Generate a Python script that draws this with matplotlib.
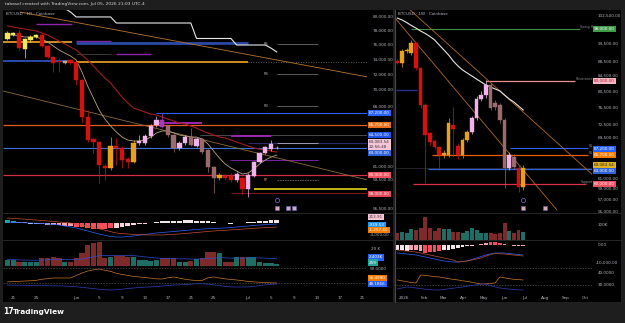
import matplotlib
matplotlib.use("Agg")
import matplotlib.pyplot as plt
from matplotlib.lines import Line2D
from matplotlib.patches import Rectangle
from matplotlib.ticker import NullLocator, NullFormatter
import numpy as np
import pandas as pd

W, H = 625, 323

# ---------------- daily BTCUSD (left chart) ----------------
d_dates = pd.date_range("2026-05-20", periods=48, freq="D")
d_open = [76760, 77320, 77600, 75390, 76620, 77040, 77320, 75790, 74300, 73770,
          73500, 73900, 73630, 71270, 66660, 64050, 63710, 61010, 60790, 63260,
          63030, 61780, 61450, 63600, 63600, 64410, 65700, 66300, 65580, 64530,
          63030, 63600, 64290, 63260, 64050, 62800, 60900, 59690, 59910, 59910,
          59480, 59690, 58520, 59910, 61450, 62460, 62900, 63000]
d_close = [77600, 77600, 75520, 76760, 77040, 77320, 75790, 74300, 73500, 73570,
           73770, 73500, 71270, 66660, 63940, 63710, 61120, 60790, 63260, 63030,
           61670, 61450, 63600, 63820, 64410, 65580, 66300, 65460, 64530, 63030,
           63600, 64290, 63370, 64050, 62570, 60900, 59690, 60020, 59690, 59480,
           60130, 58520, 60020, 61450, 62460, 63140, 63500, 63083.54]
d_high = [77880, 77800, 78020, 76900, 77300, 77500, 77600, 75900, 74400, 74170,
          73900, 74000, 73700, 71400, 67510, 64200, 63800, 61200, 64290, 64180,
          63200, 62000, 63940, 64530, 64600, 65800, 66780, 67140, 65700, 64700,
          63800, 64500, 65350, 64200, 64200, 62900, 61000, 60200, 60100, 60200,
          60300, 59800, 60200, 61600, 62600, 63300, 63900, 63300]
d_low = [76620, 77200, 75250, 74170, 76400, 76900, 75600, 74100, 72310, 72310,
         73300, 73300, 70630, 66060, 63710, 62460, 59160, 59480, 60570, 61120,
         60790, 60790, 61300, 63400, 63400, 64200, 65500, 65300, 64300, 62570,
         62800, 63400, 63200, 63100, 62400, 60350, 58100, 59500, 59500, 59300,
         59300, 58000, 57680, 59800, 61300, 62300, 62700, 62900]
d_kind = "YYRYYYRRRR" "TRRRRRRROR" "RROPPPPUMM" "PPMPMMMORR" "PRPPPPPP"
d_ema_fast = [77320, 77320, 77180, 77040, 77040, 77040, 76760, 76340, 75790, 75250,
              74840, 74440, 73900, 72310, 70500, 68990, 67510, 66420, 65580, 64880,
              64290, 63940, 63830, 63830, 63940, 64290, 64760, 65000, 65000, 64760,
              64530, 64410, 64290, 64290, 64060, 63480, 62680, 61890, 61230, 60790,
              60460, 60130, 60240, 60680, 61230, 61670, 62010, 62230]
d_ema_slow = [78590, 78440, 78300, 78160, 78020, 77880, 77600, 77320, 76900, 76480,
              76070, 75650, 75250, 74570, 73900, 73100, 72310, 71530, 70890, 69990,
              69110, 68370, 67750, 67510, 67270, 67020, 66900, 66660, 66420, 66180,
              65940, 65820, 65580, 65350, 65000, 64760, 64530, 64290, 64180, 63940,
              63710, 63480, 63260, 63030, 62910, 62800, 62680, 62570]
trail_stop = [81100, 80600, 79880, 79880, 79880, 79880, 79880, 79880, 79880,
              79010, 79010, 79010, 79010, 79010, 79010, 79010, 79010, 79010, 79010,
              79010, 79010, 79010, 79010, 76830, 76830, 76830, 76830, 76830, 76830,
              76830, 75930, 75930, 75930, 75930, 75930, 75930, 75500, 74980]
d_vol = [7.1, 7.0, 4.7, 4.7, 4.5, 4.7, 9.4, 9.4, 10.6, 9.4, 4.7, 4.7, 9.4, 15.3,
         24.7, 27.0, 28.2, 9.4, 10.6, 11.8, 11.8, 10.6, 10.6, 7.0, 7.0, 6.0, 7.0,
         9.4, 9.4, 9.4, 4.7, 4.7, 6.0, 8.2, 9.4, 16.5, 16.5, 15.3, 4.7, 4.7, 10.6,
         10.6, 10.6, 10.6, 4.7, 3.5, 3.5, 2.4]
d_vol_ma = [7.5, 7.4, 7.2, 7.0, 6.8, 6.8, 7.0, 7.2, 7.5, 7.6, 7.5, 7.4, 7.6, 8.2,
            9.4, 10.8, 12.2, 12.2, 12.2, 12.3, 12.4, 12.4, 12.2, 11.5, 10.8, 10.1,
            9.4, 9.0, 8.8, 8.7, 8.5, 8.4, 8.2, 8.2, 8.3, 8.8, 9.3, 9.8, 9.5, 9.3,
            9.3, 9.2, 9.4, 9.6, 9.5, 9.2, 8.9, 8.6]
d_hist = [1100, 900, 500, 200, -200, -300, -500, -700, -800, -900, -1000, -1100,
          -1300, -1600, -1900, -2100, -2200, -2100, -1900, -1700, -1400, -1100,
          -800, -500, -200, 100, 400, 600, 700, 800, 900, 1000, 1000, 900, 800,
          600, 300, 100, -100, -200, -100, 100, 300, 500, 700, 900, 1100, 1200]
d_hist_kind = "TTppwwpppppprrrrrrrllllll" + "w" * 23
d_macd = [364, 270, 180, 90, 0, -90, -180, -360, -550, -730, -1090, -1450, -1820,
          -2370, -2910, -3460, -4000, -4460, -4910, -5100, -5100, -4920, -4730,
          -4460, -4190, -3910, -3640, -3460, -3280, -3100, -2910, -2730, -2550,
          -2370, -2180, -2090, -2000, -1910, -1820, -1640, -1450, -1270, -1090,
          -910, -730, -600, -470, -364]
d_signal = [1820, 1670, 1530, 1380, 1240, 1090, 910, 730, 550, 360, 180, 0, -360,
            -730, -1090, -1600, -2110, -2620, -3130, -3640, -3820, -4000, -4190,
            -4250, -4310, -4370, -4370, -4370, -4250, -4120, -4000, -3820, -3640,
            -3460, -3270, -3090, -2910, -2780, -2640, -2510, -2370, -2230, -2090,
            -1960, -1820, -1700, -1580, -1460]
d_rsi = [31.5, 31.8, 32.2, 32.6, 33.0, 33.5, 35.0, 35.8, 36.7, 36.7, 36.7, 36.7,
         40.0, 43.3, 46.0, 47.5, 48.7, 47.0, 45.5, 43.0, 41.5, 40.0, 38.8, 38.0,
         37.3, 36.5, 35.5, 35.3, 37.0, 38.0, 36.5, 35.0, 34.0, 33.2, 33.5, 37.0,
         38.0, 36.7, 35.5, 34.8, 34.0, 33.2, 32.0, 31.5, 31.0, 30.5, 30.2, 30.0]
d_rsi_ma = [27.3, 27.2, 27.0, 26.9, 26.8, 26.6, 26.5, 26.3, 26.2, 26.1, 26.0, 25.5,
            25.0, 24.2, 23.4, 22.5, 21.7, 21.0, 20.7, 21.0, 21.8, 22.6, 23.3, 24.0,
            24.5, 24.7, 25.3, 26.0, 26.6, 27.2, 27.5, 28.0, 28.5, 29.0, 29.0, 28.5,
            27.5, 26.5, 25.5, 24.7, 24.7, 24.7, 24.7, 25.5, 26.5, 27.5, 28.3, 28.7]
d_ticks = ["2026-05-21", "2026-05-25", "2026-06-01", "2026-06-05", "2026-06-09",
           "2026-06-13", "2026-06-17", "2026-06-21", "2026-06-25", "2026-07-01",
           "2026-07-05", "2026-07-09", "2026-07-13", "2026-07-17", "2026-07-21"]
d_tick_labels = ["21", "25", "Jun", "5", "9", "13", "17", "21", "25", "Jul",
                 "5", "9", "13", "17", "21"]
d_price_ticks = [80000, 78000, 76000, 74000, 72000, 70000, 68000, 61000, 59500, 56500]

# ---------------- weekly BTCUSD (right chart) ----------------
w_dates = pd.date_range("2025-12-22", periods=28, freq="7D")
w_open = [88570, 88010, 91430, 90860, 93780, 86620, 77030, 70480, 68710, 67410,
          65720, 65720, 72290, 67620, 65720, 68930, 70700, 73910, 78600, 79510,
          82070, 77510, 77030, 73440, 63070, 65310, 63070, 59370]
w_close = [88010, 91430, 91700, 93780, 86620, 77030, 70030, 68490, 67410, 65720,
           66100, 72740, 71380, 65720, 68930, 70700, 73910, 78600, 79510, 82070,
           76320, 76550, 73440, 63070, 65720, 63270, 59370, 63083.54]
w_high = [89140, 92010, 92300, 94680, 94080, 87000, 77500, 70800, 69000, 67700,
          66800, 73910, 76550, 68200, 69400, 71200, 74400, 79200, 80500, 83380,
          82500, 78200, 77600, 73800, 66400, 66000, 63400, 63600]
w_low = [87730, 86910, 90800, 90280, 86080, 76320, 60130, 67840, 66900, 62660,
         65200, 65300, 65310, 64900, 65100, 68400, 70300, 73500, 77900, 78800,
         75800, 75900, 72800, 59190, 62600, 62900, 58430, 58900]
w_kind = "ROOORRRRRR" "OORROOPPPP" "MMMMPMRO"
w_ema = [101500, 100900, 100090, 99140, 98350, 97420, 96650, 95740, 94680, 93190,
         91720, 90280, 88570, 87180, 86080, 85260, 84450, 83640, 82860, 82080,
         81560, 81040, 80530, 79510, 78510, 77760, 76780, 75810]
w_vol = [47, 53, 47, 73, 67, 80, 153, 80, 60, 80, 73, 73, 53, 53, 47, 60, 80, 67,
         47, 47, 47, 40, 47, 113, 60, 47, 67, 53]
w_hist = [-2500, -3000, -3200, -2500, -3000, -3500, -4300, -4000, -3800, -3600,
          -3000, -2500, -2200, -1800, -1200, -800, -300, 200, 600, 1200, 1500,
          1400, 1100, 600, 200, -300, -500, -400]
w_hist_kind = "wwwppprrrrwwwwwlllpprrrppppp"
w_macd = [-4440, -4720, -5000, -5280, -5560, -6110, -6670, -7220, -7780, -8330,
          -8890, -9170, -9440, -9440, -9170, -8890, -8060, -7220, -6390, -5560,
          -5000, -4440, -4440, -4440, -4720, -5000, -5280, -5560]
w_signal = [-2780, -3060, -3330, -3610, -3890, -4440, -5000, -5560, -6110, -6670,
            -7220, -7780, -8330, -9440, -9170, -8890, -8330, -7780, -7220, -6110,
            -5280, -4720, -4860, -5000, -5280, -5560, -5830, -6110]
w_rsi = [34.2, 33.5, 32.8, 32.0, 31.7, 38.3, 38.0, 37.5, 37.0, 36.7, 36.0, 35.3,
         34.7, 34.2, 33.5, 33.0, 32.3, 31.5, 30.8, 31.0, 31.3, 31.7, 36.7, 36.0,
         35.3, 34.7, 34.5, 34.2]
w_rsi_ma = [26.7, 27.5, 28.3, 28.0, 27.5, 27.0, 26.5, 26.2, 25.8, 25.8, 26.3, 26.8,
            27.3, 27.8, 28.3, 29.0, 29.6, 30.2, 30.8, 30.8, 29.5, 28.3, 27.5, 27.0,
            26.6, 26.2, 25.9, 25.8]
w_ticks = ["2026-01-01", "2026-02-01", "2026-03-01", "2026-04-01", "2026-05-01",
           "2026-06-01", "2026-07-01", "2026-08-01", "2026-09-01", "2026-10-01"]
w_tick_labels = ["2026", "Feb", "Mar", "Apr", "May", "Jun", "Jul", "Aug", "Sep", "Oct"]
w_price_ticks = [102500, 93500, 88500, 84500, 80500, 76500, 72500, 69500,
                 61000, 59000, 57000, 55000]

KIND_COL = {"Y": "#f2e65a", "R": "#d3120f", "T": "#c4a57c", "O": "#e6a21c",
            "P": "#f0b4ea", "M": "#9b6b6b", "U": "#a63cb4"}
HIST_COL = {"T": "#26a69a", "p": "#f4a0b0", "w": "#f2e6ea", "r": "#f0505c",
            "l": "#fbd2d8"}
GREY = "#b2b5be"
T = pd.Timestamp
D = pd.Timedelta

fig = plt.figure(figsize=(W / 100, H / 100), dpi=100, facecolor="#1e1e1e")


def px_rect(x0, y0, x1, y1):
    return [x0 / W, 1 - y1 / H, (x1 - x0) / W, (y1 - y0) / H]


def pax(x0, y0, x1, y1):
    ax = fig.add_axes(px_rect(x0, y0, x1, y1))
    ax.set_facecolor("none")
    for s in ax.spines.values():
        s.set_visible(False)
    ax.tick_params(length=0, labelsize=3, colors=GREY, pad=1)
    ax.set_xticks([])
    ax.set_yticks([])
    return ax


def ftext(x, y, s, **kw):
    kw.setdefault("fontsize", 3)
    kw.setdefault("color", GREY)
    kw.setdefault("va", "center")
    fig.text(x / W, 1 - y / H, s, **kw)


def tag(x, y, s, bg, fg="white"):
    ftext(x, y, s, color=fg, ha="left",
          bbox=dict(boxstyle="square,pad=0.25", fc=bg, ec="none"))


# black panels and separators
for r in (px_rect(3, 10, 393, 302), px_rect(396, 10, 621, 302)):
    fig.add_artist(Rectangle((r[0], r[1]), r[2], r[3], transform=fig.transFigure,
                             fc="black", ec="none", zorder=-5))
fig.add_artist(Line2D([394.5 / W] * 2, [1 - 302 / H, 1 - 10 / H], color="#4a4a4a", lw=0.8))
for x0, x1, ys in ((3, 393, (213, 240)), (396, 621, (213, 240))):
    for y in ys:
        fig.add_artist(Line2D([x0 / W, x1 / W], [1 - y / H] * 2, color="#2c2c2c", lw=0.6))

ftext(5, 4.5, "tabasol created with TradingView.com, Jul 05, 2026 21:03 UTC-4",
      fontsize=3.2, color="#d6d6d6")
ftext(6, 14, "BTCUSD · 1D · Coinbase")
ftext(398, 14, "BTCUSD · 1W · Coinbase")
ftext(3, 312, "17", fontsize=5.5, color="white", fontweight="bold")
ftext(13, 312, "TradingView", fontsize=5.3, color="white", fontweight="bold")


def candles(ax, x, o, h, l, c, kinds, width, lw):
    o, h, l, c = map(np.asarray, (o, h, l, c))
    cols = [KIND_COL[k] for k in kinds]
    lo, hi = np.minimum(o, c), np.maximum(o, c)
    ax.vlines(x, l, h, colors=cols, lw=lw, zorder=4)
    ax.bar(x, hi - lo, width, bottom=lo, color=cols, edgecolor=cols,
           linewidth=0.3, zorder=5)


def vol_colors(o, c):
    return ["#1f6e65" if cc >= oo else "#7e2a2a" for oo, cc in zip(o, c)]


# ================= LEFT CHART =================
l_xlim = (T("2026-05-21") - D(days=1.78), T("2026-05-21") + D(days=61.75))
axL = pax(3, 10, 367, 213)
axL.set_yscale("log")
axL.set_ylim(56040, 80890)
axL.set_xlim(*l_xlim)
axL.yaxis.tick_right()
axL.set_yticks(d_price_ticks)
axL.set_yticklabels([f"{v:,.2f}" for v in d_price_ticks])
axL.yaxis.set_minor_locator(NullLocator())
axL.yaxis.set_minor_formatter(NullFormatter())
axL.tick_params(axis="y", pad=4)

# level lines
hl = axL.hlines
hl(76340, l_xlim[0], T("2026-05-31 08:00"), color="#f0a830", lw=1.2)
hl(73770, l_xlim[0], T("2026-05-31 08:00"), color="#3156c8", lw=1.2)
hl(76200, T("2026-06-01"), T("2026-07-01"), color="#2a4aa8", lw=2.0)
hl(76500, T("2026-06-01"), T("2026-06-07"), color="#7b2aa0", lw=1.0)
hl(73630, T("2026-06-01"), T("2026-07-01"), color="#f5a623", lw=1.2)
hl(73630, T("2026-07-01"), l_xlim[1], color="#777777", lw=0.6, linestyles=(0, (1, 2)))
hl(78870, T("2026-05-25"), T("2026-05-31 08:00"), color="#8e24aa", lw=1.0)
hl(74710, T("2026-06-08"), T("2026-06-14"), color="#8e24aa", lw=1.0)
hl(74710, T("2026-06-01"), T("2026-06-07"), color="#444444", lw=0.6)
for p, lab, col in ((76070, "R5", GREY), (72050, "R4", GREY), (68000, "R3", GREY),
                    (59480, "PP", "#f0a830")):
    hl(p, T("2026-07-06"), T("2026-07-13 05:00"), color="#6a6a6a", lw=0.6,
       linestyles="solid" if lab != "PP" else (0, (2, 1)))
    axL.text(T("2026-07-04 12:00"), p, lab, fontsize=2.5, color=col, ha="right", va="center")
hl(67200, T("2026-06-15"), l_xlim[1], color="#2962ff", lw=0.8)
hl(65700, l_xlim[0], l_xlim[1], color="#e65c1b", lw=0.9)
hl(64500, T("2026-06-22 14:00"), l_xlim[1], color="#4a4a4a", lw=0.7)
hl(63600, T("2026-07-01"), l_xlim[1], color="#2a2a6a", lw=0.8)
hl(63650, T("2026-07-06"), T("2026-07-13 05:00"), color="#c8c8c8", lw=0.5)
hl(63030, l_xlim[0], l_xlim[1], color="#3b6fd6", lw=0.8)
hl(66000, T("2026-06-15"), T("2026-06-23"), color="#9c27b0", lw=1.4)
hl(64400, T("2026-06-28"), T("2026-07-05"), color="#9c27b0", lw=1.4)
hl(61730, T("2026-06-27 20:00"), T("2026-07-13 05:00"), color="#7b1fa2", lw=0.7)
hl(60020, l_xlim[0], l_xlim[1], color="#d03040", lw=0.9)
hl(58520, T("2026-07-02"), l_xlim[1], color="#d4c21a", lw=1.3)
hl(58100, T("2026-06-28"), l_xlim[1], color="#7a1a1a", lw=0.8)

# trend lines
axL.plot([T("2026-05-22 05:00"), T("2026-07-21 22:00")], [80600, 71660], color="#b8762a", lw=0.6)
axL.plot([l_xlim[0], T("2026-07-21 22:00")], [69870, 59480], color="#8a6a3a", lw=0.6)

axL.plot(d_dates, d_ema_slow, color="#a11d1d", lw=0.8, zorder=3)
axL.plot(d_dates, d_ema_fast, color="#b8a482", lw=0.6, zorder=3)
axL.plot(d_dates[10:], trail_stop, color="#e8e8e8", lw=0.8, zorder=3)
candles(axL, d_dates, d_open, d_high, d_low, d_close, d_kind, 0.75, 0.5)

# events under the chart
axL.plot([d_dates[-1]], [57370], "o", ms=3, mfc="none", mec="#7e57c2", mew=0.6, clip_on=False)
axL.plot([d_dates[-1], T("2026-07-08"), T("2026-07-09")], [56540] * 3, "s", ms=2.4,
         mfc="#d8a8b0", mec="#5c6bc0", mew=0.4, clip_on=False)

# price tags
tag(369, 112.7, "67,200.00", "#2962ff")
tag(369, 124.7, "65,700.00", "#e8701a")
tag(369, 134.7, "64,500.00", "#1e53e5")
tag(369, 144.5, "63,083.54\n22:56:48", "#f6c6d8", "#333333")
tag(369, 152.7, "63,000.00", "#2f62d9")
tag(369, 175.3, "60,000.00", "#f0505f")
tag(369, 194, "58,000.00", "#e04858")

# MACD pane
axLm = pax(3, 213, 367, 240)
axLm.set_xlim(*l_xlim)
axLm.set_ylim(-6190, 3640)
axLm.bar(d_dates, d_hist, 0.85, color=[HIST_COL[k] for k in d_hist_kind])
axLm.plot(d_dates, d_macd, color="#2962ff", lw=0.5)
axLm.plot(d_dates, d_signal, color="#c0502a", lw=0.5)
tag(369, 217, "213.91", "#f6c6d8", "#333333")
tag(369, 225, "-939.53", "#2196f3")
tag(369, 230, "-1,257.40", "#f57c00")
ftext(370, 234.5, "-4,000.00")

# volume pane
axLv = pax(3, 240, 367, 266)
axLv.set_xlim(*l_xlim)
axLv.set_ylim(0, 30.6)
axLv.bar(d_dates, d_vol, 0.9, color=vol_colors(d_open, d_close))
axLv.plot(d_dates, d_vol_ma, color="#2f4fd0", lw=0.5)
ftext(371, 249, "20 K")
tag(369, 257.5, "2.403K", "#2962ff")
tag(369, 262.5, "259", "#26a69a")

# RSI pane
axLr = pax(3, 266, 367, 293)
axLr.set_xlim(*l_xlim)
axLr.set_ylim(16.67, 52.67)
for v in (50, 30):
    axLr.axhline(v, color="#5a5a5a", lw=0.5, ls=(0, (2, 2)))
axLr.plot(d_dates, d_rsi, color="#c8782a", lw=0.5)
axLr.plot(d_dates, d_rsi_ma, color="#3040b8", lw=0.5)
ftext(370, 269, "50.0000")
tag(369, 278, "56.4990", "#f57c00")
tag(369, 284, "48.1866", "#2962ff")
axLr.set_xticks(pd.to_datetime(d_ticks))
axLr.set_xticklabels(d_tick_labels)
axLr.tick_params(axis="x", pad=2.5)

# ================= RIGHT CHART =================
r_xlim = (T("2025-12-29") - D(days=9), T("2025-12-29") + D(days=285.4))
axR = pax(396, 10, 592, 213)
axR.set_yscale("log")
axR.set_ylim(54670, 104140)
axR.set_xlim(*r_xlim)
axR.yaxis.tick_right()
axR.set_yticks(w_price_ticks)
axR.set_yticklabels([f"{v:,.2f}" for v in w_price_ticks])
axR.yaxis.set_minor_locator(NullLocator())
axR.yaxis.set_minor_formatter(NullFormatter())
axR.tick_params(axis="y", pad=4)

hr = axR.hlines
hr(63083.54, r_xlim[0], r_xlim[1], color="#333333", lw=0.5)
hr(98000, T("2026-01-12"), T("2026-09-22"), color="#3f8f45", lw=0.8)
hr(83000, T("2026-05-04"), T("2026-09-15"), color="#e89090", lw=0.9)
hr(80780, r_xlim[0], T("2026-01-20"), color="#28308a", lw=1.0)
hr(67200, T("2026-06-09"), T("2026-10-04"), color="#2962ff", lw=0.8)
hr(65700, T("2026-02-12"), T("2026-10-04"), color="#e65c00", lw=0.9)
hr(62860, T("2026-02-06"), r_xlim[1], color="#2f62d9", lw=0.9)
hr(60000, T("2026-01-14"), T("2026-10-01"), color="#d83040", lw=0.9)
for p, lab in ((98000, "Swing H"), (83000, "Resistance"), (67200, "R1"),
               (65700, "R1"), (60000, "Support")):
    axR.text(T("2026-10-12"), p, lab, fontsize=2.3, color="#8a8a8a", ha="right", va="bottom")

axR.plot([T("2026-01-07"), r_xlim[1]], [104800, 61830], color="#b06a2a", lw=0.6)
axR.plot([T("2025-12-18 12:00"), T("2026-08-18 18:00")], [101530, 55198], color="#b06a2a", lw=0.6)
axR.plot(w_dates, w_ema, color="#e6e6e6", lw=0.8, zorder=3)
candles(axR, w_dates, w_open, w_high, w_low, w_close, w_kind, 5.6, 0.5)

axR.plot([w_dates[-1]], [56970], "o", ms=3, mfc="none", mec="#7e57c2", mew=0.6, clip_on=False)
axR.plot([w_dates[-1], T("2026-08-01")], [55600] * 2, "s", ms=2.4,
         mfc="#d8a8b0", mec="#5c6bc0", mew=0.4, clip_on=False)

tag(594, 29, "98,000.00", "#3e9b47")
tag(594, 81, "83,000.00", "#f4b6c2", "#b0202a")
tag(594, 149, "67,200.00", "#2962ff")
tag(594, 155, "65,700.00", "#f57c00")
tag(594, 165, "63,083.54", "#e0b020", "#222222")
tag(594, 171, "63,000.00", "#2f62d9")
tag(594, 184, "60,000.00", "#f0505f")

# volume pane
axRv = pax(396, 213, 592, 240)
axRv.set_xlim(*r_xlim)
axRv.set_ylim(0, 180)
axRv.bar(w_dates, w_vol, 6.0, color=vol_colors(w_open, w_close))
ftext(598, 225, "100K")

# MACD pane
axRm = pax(396, 240, 592, 268)
axRm.set_xlim(*r_xlim)
axRm.set_ylim(-12780, 2780)
axRm.bar(w_dates, w_hist, 5.6, color=[HIST_COL[k] for k in w_hist_kind])
axRm.plot(w_dates, w_macd, color="#2962ff", lw=0.5)
axRm.plot(w_dates, w_signal, color="#c0502a", lw=0.5)
ftext(598, 245, "0.00")
ftext(596, 263, "-10,000.00")

# RSI pane
axRr = pax(396, 268, 592, 293)
axRr.set_xlim(*r_xlim)
axRr.set_ylim(23.3, 44.2)
for v in (44, 30):
    axRr.axhline(v, color="#5a5a5a", lw=0.5, ls=(0, (2, 2)))
axRr.plot(w_dates, w_rsi, color="#c8782a", lw=0.5)
axRr.plot(w_dates, w_rsi_ma, color="#3040b8", lw=0.5)
ftext(598, 273, "40.0000")
ftext(598, 285, "30.0000")
axRr.set_xticks(pd.to_datetime(w_ticks))
axRr.set_xticklabels(w_tick_labels)
axRr.tick_params(axis="x", pad=2.5)

fig.savefig("out.png", dpi=100, facecolor=fig.get_facecolor())
